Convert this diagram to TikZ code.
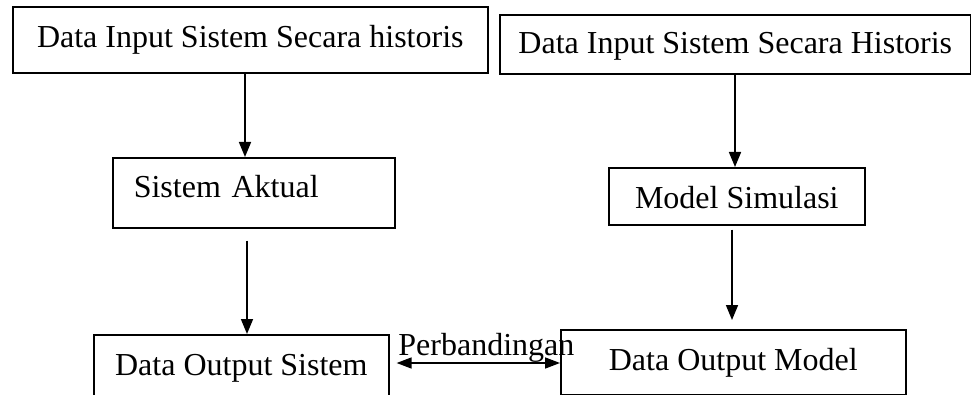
\documentclass[tikz,border=0pt]{standalone}
\usepackage{fontspec}
\setmainfont{Liberation Serif}
\usetikzlibrary{arrows.meta}

\tikzset{
    kotak/.style={draw, line width=1.6pt, anchor=north west, inner xsep=0pt, inner ysep=0pt,
        font=\fontsize{32}{38}\selectfont},
    panah/.style={-{Triangle[length=15pt,width=12pt]}, line width=1.6pt},
    panahdua/.style={{Triangle[length=15pt,width=11pt]}-{Triangle[length=15pt,width=11pt]}, line width=1.6pt}
}

\begin{document}
\begin{tikzpicture}[x=1pt,y=-1pt]
    \useasboundingbox (0,0) rectangle (971,395);
    % kolom kiri: sistem nyata
    \node[kotak, minimum width=475pt, text height=41pt, text depth=25pt] at (12,6) (inAktual) {Data Input Sistem Secara historis};
    \node[kotak, text width=240pt, inner xsep=21pt, align=left, text height=40pt, text depth=30pt] at (112,157) (aktual) {Sistem Aktual};
    \node[kotak, minimum width=295pt, text height=41pt, text depth=30pt] at (93,334) (outSistem) {Data Output Sistem};
    % kolom kanan: model
    \node[kotak, minimum width=471pt, text height=39pt, text depth=20pt] at (499,14) (inModel) {Data Input Sistem Secara Historis};
    \node[kotak, minimum width=256pt, text height=41pt, text depth=16pt] at (608,167) (model) {Model Simulasi};
    \node[kotak, minimum width=345pt, text height=41pt, text depth=24pt] at (560,329) (outModel) {Data Output Model};

    \draw[panah] (inAktual.south -| 245,0) -- (aktual.north -| 245,0);
    \draw[panah, shorten <=12pt] (aktual.south -| 247,0) -- (outSistem.north -| 247,0);
    \draw[panah] (inModel.south -| 735,0) -- (model.north -| 735,0);
    \draw[panah, shorten <=4pt, shorten >=9pt] (model.south -| 732,0) -- (outModel.north -| 732,0);
    \draw[panahdua, shorten <=7pt] (outSistem.east |- 0,363) -- (outModel.west |- 0,363)
        node[pos=0, anchor=base west, xshift=8pt, yshift=8pt, inner sep=0pt, font=\fontsize{32}{38}\selectfont] (banding) {Perbandingan};
\end{tikzpicture}
\end{document}
